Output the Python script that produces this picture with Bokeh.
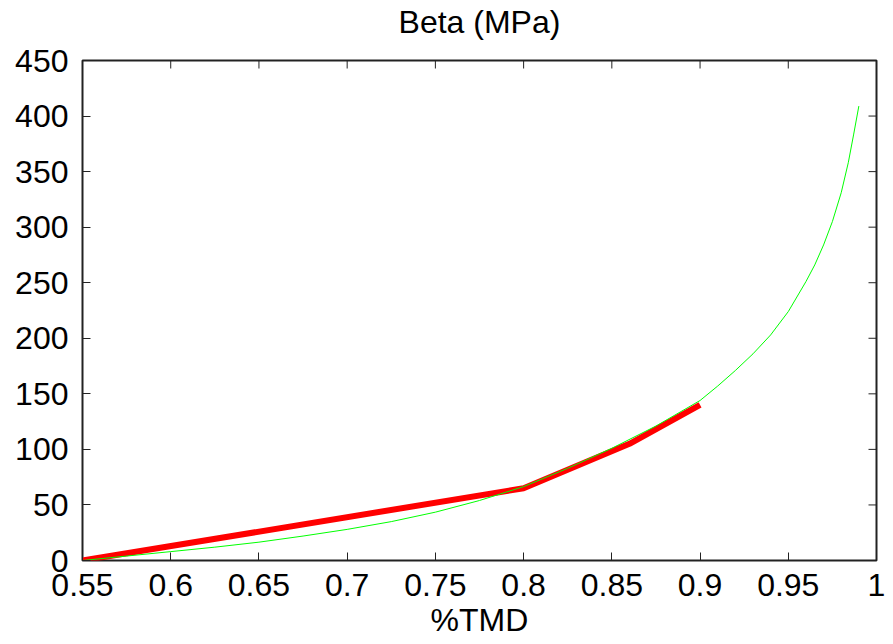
import math
from bokeh.plotting import figure
from bokeh.models import LinearAxis, FixedTicker, Range1d
from bokeh.embed import file_html
from bokeh.resources import INLINE

# data
red_x = [0.55, 0.8, 0.86, 0.9]
red_y = [0.0, 65.0, 105.0, 140.0]

green_x = [0.55, 0.575, 0.6, 0.625, 0.65, 0.675, 0.7, 0.725, 0.75, 0.775, 0.8, 0.825,
           0.85, 0.875, 0.9, 0.91, 0.92, 0.93, 0.94, 0.95, 0.96, 0.965, 0.97,
           0.975, 0.98, 0.984, 0.987, 0.99]
green_y = [0.0, 4.0, 8.0, 12.0, 16.5, 22.0, 28.0, 35.0, 43.5, 54.0, 66.5, 83.0,
           101.0, 121.0, 144.0, 157.0, 171.0, 186.0, 203.0, 224.0, 251.0, 266.0, 284.0,
           305.0, 331.0, 358.0, 383.0, 409.0]

x_ticks = [0.55, 0.6, 0.65, 0.7, 0.75, 0.8, 0.85, 0.9, 0.95, 1.0]
x_labels = {0.55: "0.55", 0.6: "0.6", 0.65: "0.65", 0.7: "0.7", 0.75: "0.75",
            0.8: "0.8", 0.85: "0.85", 0.9: "0.9", 0.95: "0.95", 1.0: "1"}
y_ticks = [0, 50, 100, 150, 200, 250, 300, 350, 400, 450]

title_text = "Beta (MPa)"
xlabel_text = "%TMD"

X0, X1 = 0.55, 1.0
Y0, Y1 = 0, 450

FONT = "Liberation Sans"
FS = "32px"
TICK = "#222222"

p = figure(width=885, height=640, output_backend="svg", toolbar_location=None,
           x_range=Range1d(X0, X1), y_range=Range1d(Y0, Y1),
           x_axis_location=None, y_axis_location=None,
           min_border_left=82, min_border_right=9, min_border_top=59, min_border_bottom=80)
p.grid.visible = False
p.outline_line_color = TICK
p.outline_line_width = 2
p.background_fill_color = "white"
p.border_fill_color = "white"

def style(ax):
    ax.axis_line_color = None
    ax.major_tick_in = 8
    ax.major_tick_out = 0
    ax.major_tick_line_color = TICK
    ax.major_tick_line_width = 1
    ax.minor_tick_line_color = None
    ax.major_label_text_font = FONT
    ax.major_label_text_font_size = FS
    ax.major_label_text_color = "black"

def label_style(ax, text):
    ax.axis_label = text
    ax.axis_label_text_font = FONT
    ax.axis_label_text_font_size = FS
    ax.axis_label_text_font_style = "normal"
    ax.axis_label_text_color = "black"

xb = LinearAxis(ticker=FixedTicker(ticks=x_ticks))
xb.major_label_overrides = x_labels
style(xb)
xb.major_label_standoff = 13
xb.major_label_text_line_height = 0.7
label_style(xb, xlabel_text)
xb.axis_label_text_line_height = 0.7
xb.axis_label_standoff = 3
p.add_layout(xb, "below")

yl = LinearAxis(ticker=FixedTicker(ticks=y_ticks))
style(yl)
yl.major_label_standoff = 14
p.add_layout(yl, "left")

# title carried by a label-only top axis
xt = LinearAxis(ticker=FixedTicker(ticks=[]))
style(xt)
xt.major_tick_in = 0
label_style(xt, title_text)
xt.axis_label_text_line_height = 0.7
xt.axis_label_standoff = 21
p.add_layout(xt, "above")

# mirrored inward ticks on top and right edges
p.ray(x=x_ticks, y=[Y1] * len(x_ticks), length=8, length_units="screen",
      angle=-math.pi / 2, line_color=TICK, line_width=1)
p.ray(x=[X1] * len(y_ticks), y=y_ticks, length=8, length_units="screen",
      angle=math.pi, line_color=TICK, line_width=1)

p.line(red_x, red_y, line_color="red", line_width=6)
p.line(green_x, green_y, line_color="#00ff00", line_width=1)

open("out.html", "w").write(file_html(p, INLINE))
